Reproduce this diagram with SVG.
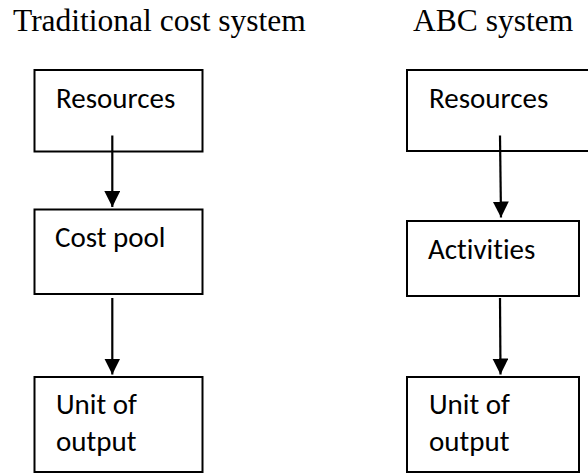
<svg xmlns="http://www.w3.org/2000/svg" width="588" height="473" viewBox="0 0 588 473">
<defs>
<style>
.title{font-family:"Liberation Serif","Times New Roman",serif;font-size:31.5px;fill:#000}
.box{fill:#fff;stroke:#000;stroke-width:2}
.lbl{font-family:Carlito,Lato,"Open Sans",sans-serif;font-size:29px;fill:#000;font-variant-ligatures:none;font-feature-settings:"liga" 0}
.conn{stroke:#000;stroke-width:2.2;fill:none;marker-end:url(#ah)}
</style>
<marker id="ah" viewBox="0 0 16 16" refX="16" refY="8" markerWidth="16" markerHeight="16" markerUnits="userSpaceOnUse" orient="auto">
<path d="M0,0 L16,8 L0,16 Z" fill="#000"/>
</marker>
</defs>
<rect width="588" height="473" fill="#fff"/>
<text class="title" x="13" y="31">Traditional cost system</text>
<text class="title" x="413" y="31">ABC system</text>
<g id="t-resources">
<rect class="box" x="34.5" y="70" width="168" height="81.5"/>
<text class="lbl" x="56" y="108">Resources</text>
</g>
<g id="t-costpool">
<rect class="box" x="34.5" y="209.5" width="168" height="84.5"/>
<text class="lbl" x="55" y="247">Cost pool</text>
</g>
<g id="t-unit">
<rect class="box" x="34.5" y="377" width="168" height="95"/>
<text class="lbl" x="56" y="414">Unit of</text>
<text class="lbl" x="56" y="450.5">output</text>
</g>
<g id="a-resources">
<rect class="box" x="407" y="70" width="190" height="81"/>
<text class="lbl" x="429" y="108">Resources</text>
</g>
<g id="a-activities">
<rect class="box" x="407" y="221" width="172" height="75"/>
<text class="lbl" x="428" y="259">Activities</text>
</g>
<g id="a-unit">
<rect class="box" x="407" y="377" width="172" height="95"/>
<text class="lbl" x="429" y="414">Unit of</text>
<text class="lbl" x="429" y="450.5">output</text>
</g>
<g id="connectors">
<line class="conn" x1="112.3" y1="135.5" x2="112.3" y2="207"/>
<line class="conn" x1="112.3" y1="298" x2="112.3" y2="374.5"/>
<line class="conn" x1="500" y1="135.5" x2="501" y2="217.5"/>
<line class="conn" x1="500" y1="298" x2="500.5" y2="374.5"/>
</g>
</svg>
